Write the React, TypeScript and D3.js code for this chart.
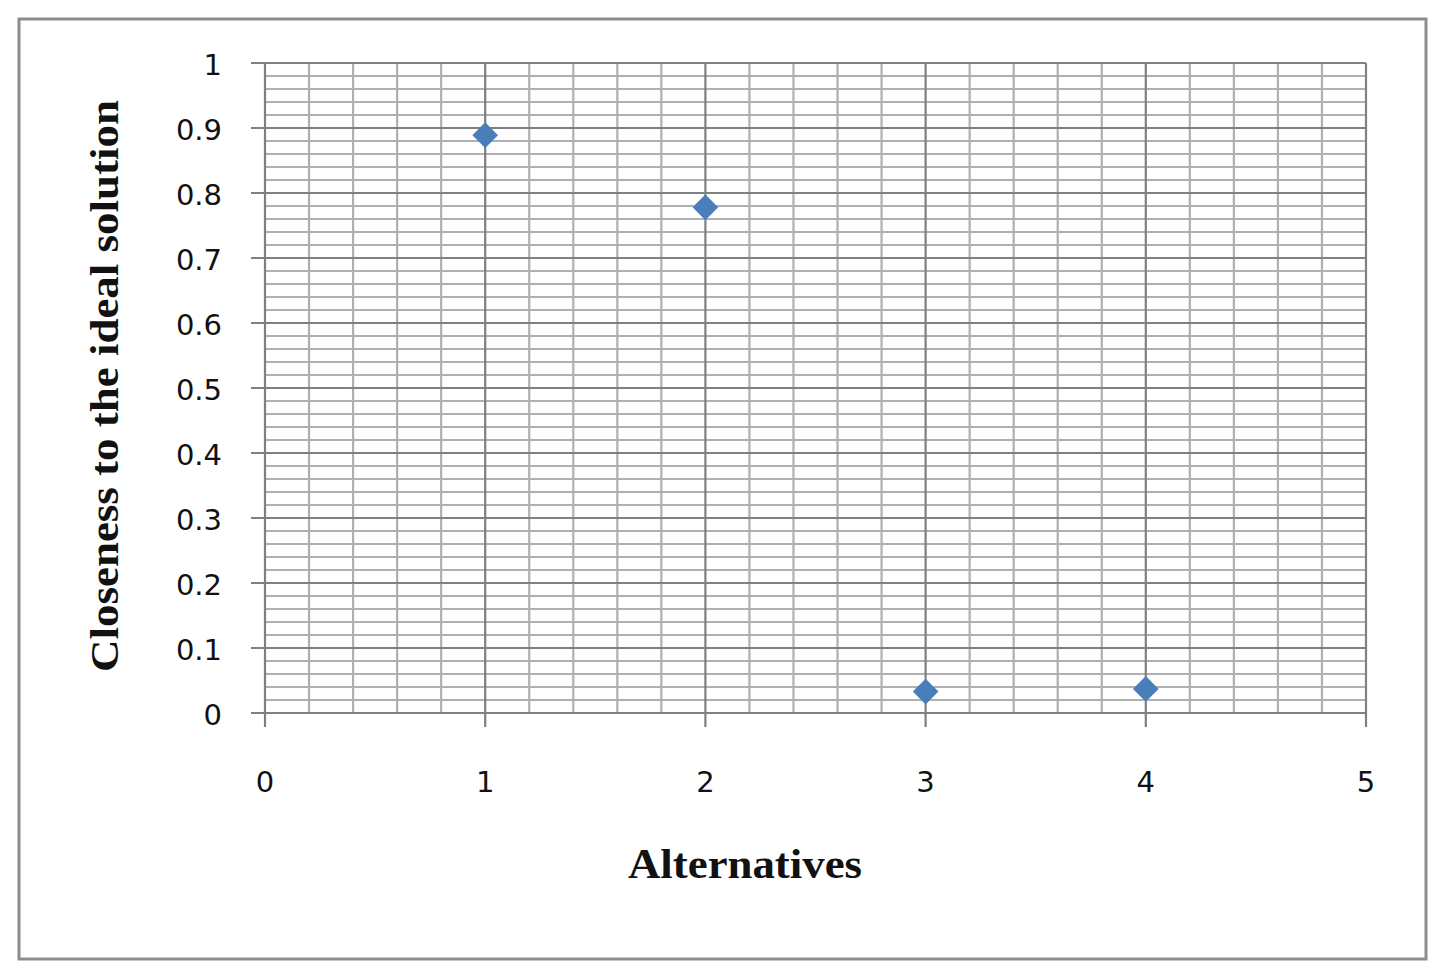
import React from "react";
import * as d3 from "d3";

const alternatives = [1, 2, 3, 4];
const closeness = [0.889, 0.778, 0.033, 0.037];
const xTicks = [0, 1, 2, 3, 4, 5];
const yTicks = [0, 0.1, 0.2, 0.3, 0.4, 0.5, 0.6, 0.7, 0.8, 0.9, 1];
const xTitle = "Alternatives";
const yTitle = "Closeness to the ideal solution";

const W = 1445;
const H = 975;

export default function App() {
  const x = d3.scaleLinear().domain([0, 5]).range([265, 1366]);
  const y = d3.scaleLinear().domain([0, 1]).range([713, 63]);
  const xMinor = d3.range(0, 5.0001, 0.2).filter((v) => Math.abs(v - Math.round(v)) > 1e-6);
  const yMinor = d3.range(0, 1.0001, 0.02).filter((v) => Math.abs(v * 10 - Math.round(v * 10)) > 1e-6);
  const diamond = d3.symbol().type(d3.symbolDiamond2).size(420)();
  const tickFont = "'DejaVu Sans', Verdana, sans-serif";
  const titleFont = "'Liberation Serif', 'Times New Roman', serif";
  return (
    <svg width={W} height={H} style={{ position: "absolute", left: 0, top: 0, background: "#fff" }}>
      <rect x={19} y={19} width={1407} height={940} fill="#fff" stroke="#8c8c8c" strokeWidth={3} />
      {yMinor.map((v) => (
        <line key={"ym" + v} x1={x(0)} x2={x(5)} y1={y(v)} y2={y(v)} stroke="#b0b0b0" strokeWidth={2.2} />
      ))}
      {xMinor.map((v) => (
        <line key={"xm" + v} x1={x(v)} x2={x(v)} y1={y(0)} y2={y(1)} stroke="#b0b0b0" strokeWidth={2.2} />
      ))}
      {yTicks.map((v) => (
        <line key={"yM" + v} x1={x(0) - 14} x2={x(5)} y1={y(v)} y2={y(v)} stroke="#808080" strokeWidth={2.2} />
      ))}
      {xTicks.map((v) => (
        <line key={"xM" + v} x1={x(v)} x2={x(v)} y1={y(0) + 14} y2={y(1)} stroke="#808080" strokeWidth={2.2} />
      ))}
      {yTicks.map((v) => (
        <text key={"yl" + v} x={222} y={y(v) + 2} dy="0.36em" textAnchor="end" fontFamily={tickFont} fontSize={29} fill="#111">
          {d3.format("~g")(v)}
        </text>
      ))}
      {xTicks.map((v) => (
        <text key={"xl" + v} x={x(v)} y={792} textAnchor="middle" fontFamily={tickFont} fontSize={29} fill="#111">
          {v}
        </text>
      ))}
      {alternatives.map((a, i) => (
        <path key={"p" + a} d={diamond} transform={`translate(${x(a)},${y(closeness[i])})`} fill="#4a7ebb" />
      ))}
      <text x={745} y={878} textAnchor="middle" fontFamily={titleFont} fontWeight="bold" fontSize={42} textLength={234} lengthAdjust="spacingAndGlyphs" fill="#111">
        {xTitle}
      </text>
      <text transform={`translate(118,386) rotate(-90)`} textAnchor="middle" fontFamily={titleFont} fontWeight="bold" fontSize={40} textLength={572} lengthAdjust="spacingAndGlyphs" fill="#111">
        {yTitle}
      </text>
    </svg>
  );
}
